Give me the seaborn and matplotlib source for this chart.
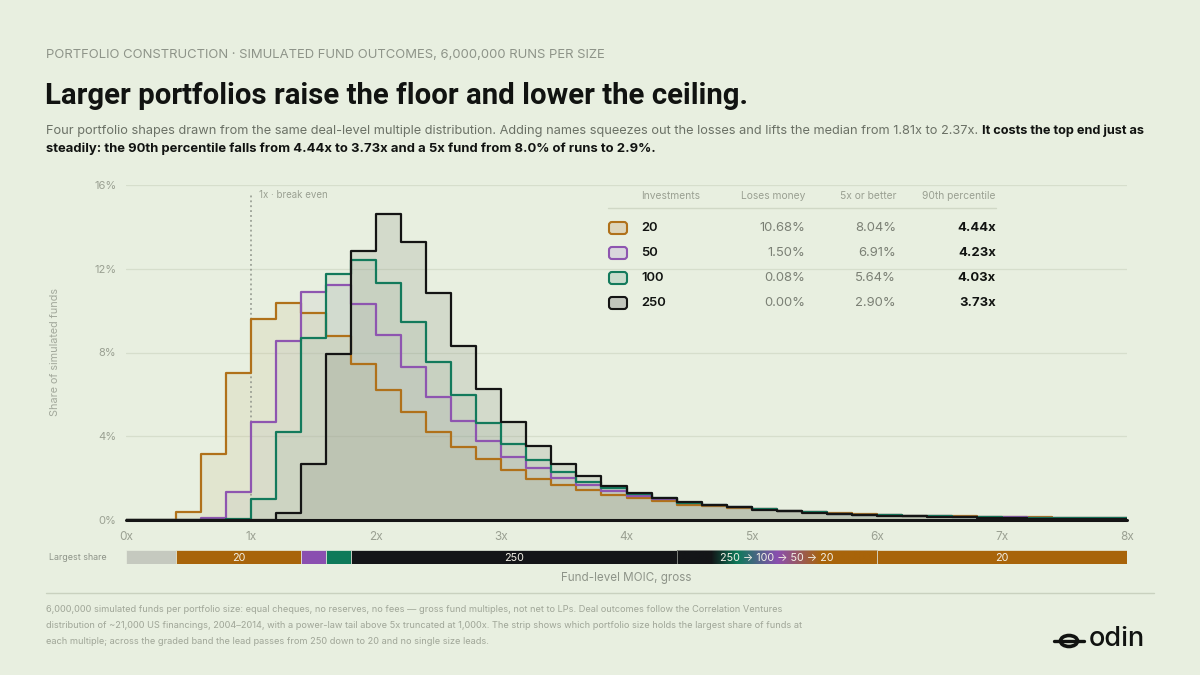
import matplotlib
matplotlib.use('Agg')
import matplotlib.pyplot as plt
from matplotlib.patches import FancyBboxPatch, Ellipse
from matplotlib.colors import LinearSegmentedColormap
import numpy as np
import pandas as pd
import seaborn as sns

# Bin edges: 0.2x wide bins from 0x to 8x
bin_left = [round(0.2 * i, 1) for i in range(40)]
bin_width = 0.2

sizes = ['20', '50', '100', '250']

# Share of simulated funds (%) per bin
share_20 = [0, 0, 0.38, 3.17, 7.03, 9.62, 10.38, 9.89, 8.78, 7.46,
            6.21, 5.14, 4.21, 3.48, 2.89, 2.37, 1.98, 1.67, 1.41, 1.21,
            1.06, 0.91, 0.74, 0.66, 0.58, 0.51, 0.45, 0.38, 0.32, 0.27,
            0.24, 0.21, 0.19, 0.17, 0.15, 0.135, 0.12, 0.11, 0.10, 0.09]
share_50 = [0, 0, 0, 0.08, 1.33, 4.70, 8.54, 10.90, 11.22, 10.32,
            8.84, 7.30, 5.86, 4.71, 3.78, 3.02, 2.46, 2.02, 1.67, 1.38,
            1.17, 1.00, 0.80, 0.72, 0.62, 0.52, 0.45, 0.37, 0.31, 0.26,
            0.23, 0.20, 0.18, 0.16, 0.14, 0.125, 0.11, 0.10, 0.09, 0.08]
share_100 = [0, 0, 0, 0, 0.03, 0.98, 4.19, 8.67, 11.76, 12.43,
             11.32, 9.48, 7.57, 5.95, 4.63, 3.63, 2.87, 2.27, 1.83, 1.51,
             1.24, 1.05, 0.83, 0.73, 0.62, 0.52, 0.44, 0.36, 0.30, 0.25,
             0.22, 0.19, 0.17, 0.15, 0.13, 0.115, 0.10, 0.09, 0.08, 0.075]
share_250 = [0, 0, 0, 0, 0, 0, 0.32, 2.68, 7.95, 12.87,
             14.60, 13.30, 10.83, 8.33, 6.25, 4.70, 3.52, 2.68, 2.08, 1.63,
             1.27, 1.06, 0.84, 0.72, 0.61, 0.50, 0.42, 0.35, 0.28, 0.23,
             0.20, 0.17, 0.14, 0.12, 0.10, 0.08, 0.07, 0.06, 0.05, 0.04]

# Summary table
loses_money = ['10.68%', '1.50%', '0.08%', '0.00%']
five_x = ['8.04%', '6.91%', '5.64%', '2.90%']
p90 = ['4.44x', '4.23x', '4.03x', '3.73x']

# Band where no single size leads
graded_band = [4.4, 6.0]

y_ticks = [0, 4, 8, 12, 16]
x_ticks = [0, 1, 2, 3, 4, 5, 6, 7, 8]

# Styling
bg = '#e8efe0'
dark = '#111311'
grey = '#8e9489'
line_colors = {'20': '#b0711a', '50': '#8e55b0', '100': '#137a5c', '250': '#141414'}
fill_colors = {'20': '#c8bd8e', '50': '#aaa6b2', '100': '#8aa896', '250': '#7d8473'}
fill_alpha = {'20': 0.2, '50': 0.14, '100': 0.15, '250': 0.19}
swatch_fill = {'20': '#ddd5bb', '50': '#d9d7dc', '100': '#c9dccd', '250': '#c1c5bc'}
strip_colors = {'none': '#c5c9bf', '20': '#a8640a', '50': '#8a4fb0', '100': '#0e7a5a', '250': '#141518'}

sns.set_theme(style='white')
plt.rcParams['font.family'] = ['Inter', 'DejaVu Sans']

df = pd.DataFrame({
    'moic': np.array(bin_left * 4) + bin_width / 2,
    'share': share_20 + share_50 + share_100 + share_250,
    'size': np.repeat(sizes, len(bin_left)),
})
edges = bin_left + [bin_left[-1] + bin_width]

fig = plt.figure(figsize=(12, 6.75), dpi=100, facecolor=bg)
W, H = 1200, 675

ax = fig.add_axes([126 / W, 1 - 520 / H, 1001 / W, 335 / H])
ax.set_facecolor('none')

for s in sizes:
    sub = df[df['size'] == s]
    sns.histplot(data=sub, x='moic', weights='share', bins=edges, element='step',
                 fill=True, color=fill_colors[s], alpha=fill_alpha[s], linewidth=0, ax=ax)
    sns.histplot(data=sub, x='moic', weights='share', bins=edges, element='step',
                 fill=False, color=line_colors[s], linewidth=1.6, ax=ax)

ax.set_xlim(0, 8)
ax.set_ylim(0, 16)
ax.set_xticks(x_ticks)
ax.set_xticklabels([f'{t}x' for t in x_ticks])
ax.set_yticks(y_ticks)
ax.set_yticklabels([f'{t}%' for t in y_ticks])
ax.tick_params(length=0, labelsize=8, colors='#9aa092', pad=7)
ax.tick_params(axis='x', pad=8, labelsize=8.5)
ax.set_xlabel('')
ax.set_ylabel('')
for sp in ax.spines.values():
    sp.set_visible(False)
ax.grid(axis='y', color='#d6decc', linewidth=0.9)
ax.set_axisbelow(True)
ax.axhline(0, color='#151515', linewidth=2.2, clip_on=False, zorder=5)

# break-even marker
ax.axvline(1.0, ymin=0, ymax=15.6 / 16, color='#8f948a', linestyle=(0, (1.2, 2)), linewidth=1.1, zorder=1.5)
ax.text(1.06, 15.5, '1x · break even', fontsize=7, color='#9aa092', va='center')

# Largest-share strip: leader per bin from the data
shares = np.array([share_20, share_50, share_100, share_250])
leaders = []
for i, left in enumerate(bin_left):
    if graded_band[0] <= left < graded_band[1]:
        leaders.append('graded')
    elif shares[:, i].max() == 0:
        leaders.append('none')
    else:
        leaders.append(sizes[int(shares[:, i].argmax())])
segments = []
for i, lead in enumerate(leaders):
    if segments and segments[-1][2] == lead:
        segments[-1][1] = bin_left[i] + bin_width
    else:
        segments.append([bin_left[i], bin_left[i] + bin_width, lead])

ax2 = fig.add_axes([126 / W, 1 - 564 / H, 1001 / W, 14 / H])
ax2.set_xlim(0, 8)
ax2.set_ylim(0, 1)
ax2.axis('off')
grad_cmap = LinearSegmentedColormap.from_list('lead', [
    (0.0, strip_colors['250']), (0.17, strip_colors['250']), (0.3, strip_colors['100']),
    (0.5, strip_colors['50']), (0.72, strip_colors['20']), (1.0, strip_colors['20'])])
for start, end, lead in segments:
    if lead == 'graded':
        ax2.imshow(np.linspace(0, 1, 256).reshape(1, -1), cmap=grad_cmap, aspect='auto',
                   extent=[start, end, 0, 1], zorder=1)
        ax2.barh(0.5, end - start, left=start, height=1, facecolor='none',
                 edgecolor='#cfd3c8', linewidth=0.4, zorder=2)
        label = ' → '.join(['250', '100', '50', '20'])
    else:
        ax2.barh(0.5, end - start, left=start, height=1, color=strip_colors[lead],
                 edgecolor=bg, linewidth=0.5, zorder=1)
        label = lead if lead != 'none' else ''
    if end - start >= 0.6 and label:
        ax2.text((start + end) / 2, 0.45, label, color='#f3f0e6', fontsize=7.8,
                 ha='center', va='center', zorder=3, family=['Inter', 'DejaVu Sans'])

# Overlay in pixel coordinates for text and decorations
ov = fig.add_axes([0, 0, 1, 1])
ov.set_xlim(0, W)
ov.set_ylim(H, 0)
ov.axis('off')
ov.patch.set_alpha(0)

ov.text(46, 58, 'PORTFOLIO CONSTRUCTION · SIMULATED FUND OUTCOMES, 6,000,000 RUNS PER SIZE',
        fontsize=9.42, color=grey, va='baseline')
ov.text(45, 104, 'Larger portfolios raise the floor and lower the ceiling.',
        fontsize=21.2, fontweight='bold', color=dark, va='baseline', family=['Roboto', 'DejaVu Sans'])

renderer = fig.canvas.get_renderer()
t1 = ov.text(46, 134, 'Four portfolio shapes drawn from the same deal-level multiple distribution. '
             'Adding names squeezes out the losses and lifts the median from 1.81x to 2.37x.',
             fontsize=9.2, color='#6b7166', va='baseline')
bb = t1.get_window_extent(renderer)
ov.text(bb.x1 + 4, 134, 'It costs the top end just as', fontsize=9.2, fontweight='bold',
        color=dark, va='baseline')
ov.text(46, 152, 'steadily: the 90th percentile falls from 4.44x to 3.73x and a 5x fund from 8.0% of runs to 2.9%.',
        fontsize=9.4, fontweight='bold', color=dark, va='baseline')

# y label and strip labels
ov.text(55, 352, 'Share of simulated funds', rotation=90, fontsize=7.8, color='#a3a99c',
        ha='center', va='center')
ov.text(107, 557, 'Largest share', fontsize=6.4, color=grey, ha='right', va='center')
ov.text(626, 578, 'Fund-level MOIC, gross', fontsize=8.4, color=grey, ha='center', va='center')

# Summary table
ov.text(641, 196, 'Investments', fontsize=7.4, color='#9aa092', va='center')
ov.text(805, 196, 'Loses money', fontsize=7.4, color='#9aa092', va='center', ha='right')
ov.text(896, 196, '5x or better', fontsize=7.4, color='#9aa092', va='center', ha='right')
ov.text(996, 196, '90th percentile', fontsize=7.4, color='#9aa092', va='center', ha='right')
ov.plot([608, 996], [208, 208], color='#d0d8c6', linewidth=1)
row_y = [228, 253, 278, 303]
for s, ry, lm, fx, pc in zip(sizes, row_y, loses_money, five_x, p90):
    ov.add_patch(FancyBboxPatch((609, ry - 6), 18, 12, boxstyle='round,pad=0,rounding_size=3',
                                facecolor=swatch_fill[s], edgecolor=line_colors[s], linewidth=1.5))
    ov.text(641, ry, s, fontsize=9.4, fontweight='semibold', color=dark, va='center')
    ov.text(805, ry, lm, fontsize=9.4, color='#7b8075', va='center', ha='right')
    ov.text(896, ry, fx, fontsize=9.4, color='#7b8075', va='center', ha='right')
    ov.text(996, ry, pc, fontsize=9.4, fontweight='bold', color=dark, va='center', ha='right')

# Footer
ov.plot([46, 1154], [593, 593], color='#c9d1bf', linewidth=1)
footer = [
    '6,000,000 simulated funds per portfolio size: equal cheques, no reserves, no fees — gross fund multiples, '
    'not net to LPs. Deal outcomes follow the Correlation Ventures',
    'distribution of ~21,000 US financings, 2004–2014, with a power-law tail above 5x truncated at 1,000x. '
    'The strip shows which portfolio size holds the largest share of funds at',
    'each multiple; across the graded band the lead passes from 250 down to 20 and no single size leads.',
]
for i, line in enumerate(footer):
    ov.text(46, 610 + 16 * i, line, fontsize=6.65, color='#a0a698', va='center')

# Logo
ov.add_patch(Ellipse((1069, 641), 17, 11, facecolor='none', edgecolor=dark, linewidth=2.6))
ov.plot([1054, 1084], [641, 641], color=dark, linewidth=2.4, solid_capstyle='round')
ov.text(1089, 639, 'odin', fontsize=19.5, color=dark, va='center', fontweight='medium')

fig.savefig('out.png', dpi=100, facecolor=bg)
